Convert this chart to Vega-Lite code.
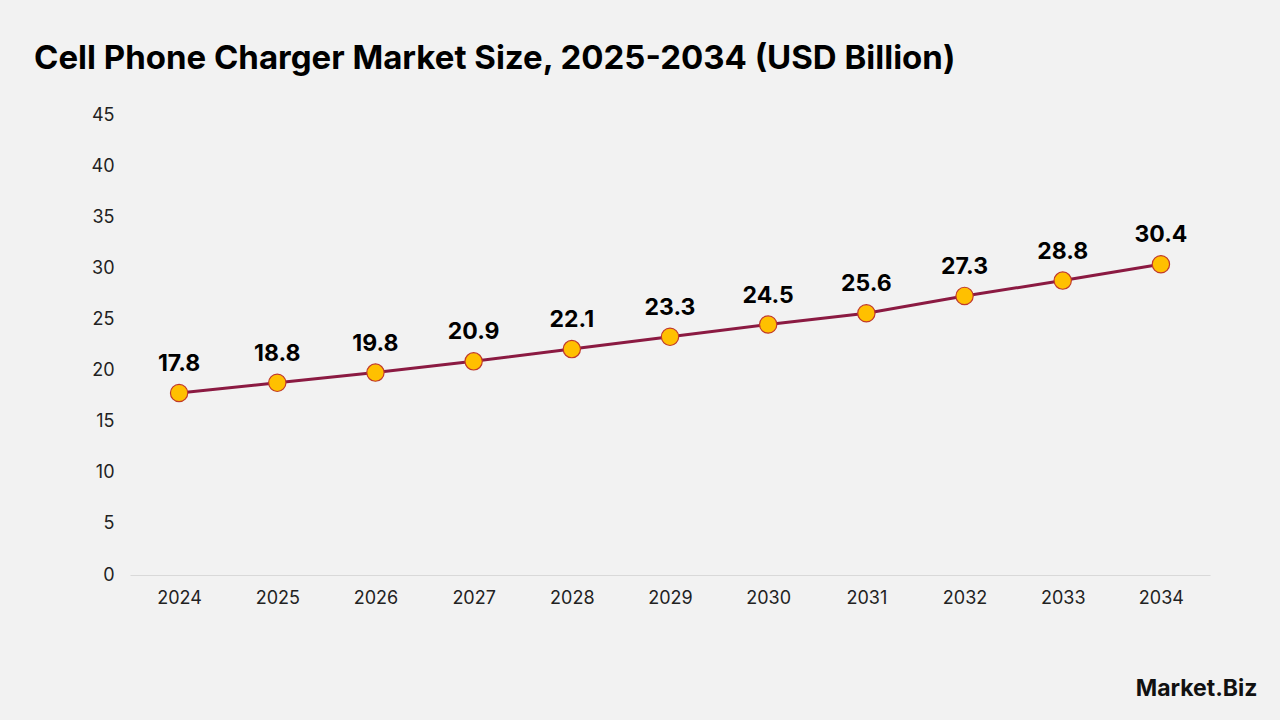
{
  "$schema": "https://vega.github.io/schema/vega-lite/v6.json",
  "width": 1080,
  "height": 460,
  "autosize": {"type": "none"},
  "padding": {"left": 130, "top": 115, "right": 70, "bottom": 145},
  "background": "#F2F2F2",
  "config": {
    "view": {"stroke": null},
    "font": "Inter"
  },
  "title": {
    "text": "Cell Phone Charger Market Size, 2025-2034 (USD Billion)",
    "anchor": "start",
    "frame": "group",
    "dx": -96,
    "offset": 30,
    "fontSize": 33,
    "fontWeight": "bold",
    "font": "Inter",
    "color": "#000000"
  },
  "data": {
    "values": [
      {"year": "2024", "value": 17.8},
      {"year": "2025", "value": 18.8},
      {"year": "2026", "value": 19.8},
      {"year": "2027", "value": 20.9},
      {"year": "2028", "value": 22.1},
      {"year": "2029", "value": 23.3},
      {"year": "2030", "value": 24.5},
      {"year": "2031", "value": 25.6},
      {"year": "2032", "value": 27.3},
      {"year": "2033", "value": 28.8},
      {"year": "2034", "value": 30.4}
    ]
  },
  "encoding": {
    "x": {
      "field": "year",
      "type": "ordinal",
      "scale": {"type": "point", "padding": 0.5},
      "axis": {
        "labelAngle": 0,
        "labelFontSize": 18,
        "labelColor": "#222222",
        "labelPadding": 14,
        "ticks": false,
        "domainColor": "#D9D9D9",
        "domainWidth": 1,
        "grid": false,
        "title": "Market.Biz",
        "titleFontSize": 23,
        "titleFontWeight": "bold",
        "titleColor": "#111111",
        "titleAnchor": "end",
        "titleAlign": "right",
        "titleX": 1127,
        "titleY": 102
      }
    },
    "y": {
      "field": "value",
      "type": "quantitative",
      "scale": {"domain": [0, 45]},
      "axis": {
        "values": [0, 5, 10, 15, 20, 25, 30, 35, 40, 45],
        "labelFontSize": 18,
        "labelColor": "#222222",
        "labelPadding": 16,
        "ticks": false,
        "domain": false,
        "grid": false,
        "title": null
      }
    }
  },
  "layer": [
    {
      "mark": {"type": "line", "color": "#8B1A42", "strokeWidth": 3}
    },
    {
      "mark": {"type": "point", "filled": true, "fill": "#FFC000", "stroke": "#C0392B", "strokeWidth": 1.2, "size": 300, "opacity": 1}
    },
    {
      "mark": {"type": "text", "dy": -29, "fontSize": 23, "fontWeight": "bold", "color": "#000000", "font": "Inter"},
      "encoding": {"text": {"field": "value", "type": "quantitative", "format": ".1f"}}
    }
  ]
}
